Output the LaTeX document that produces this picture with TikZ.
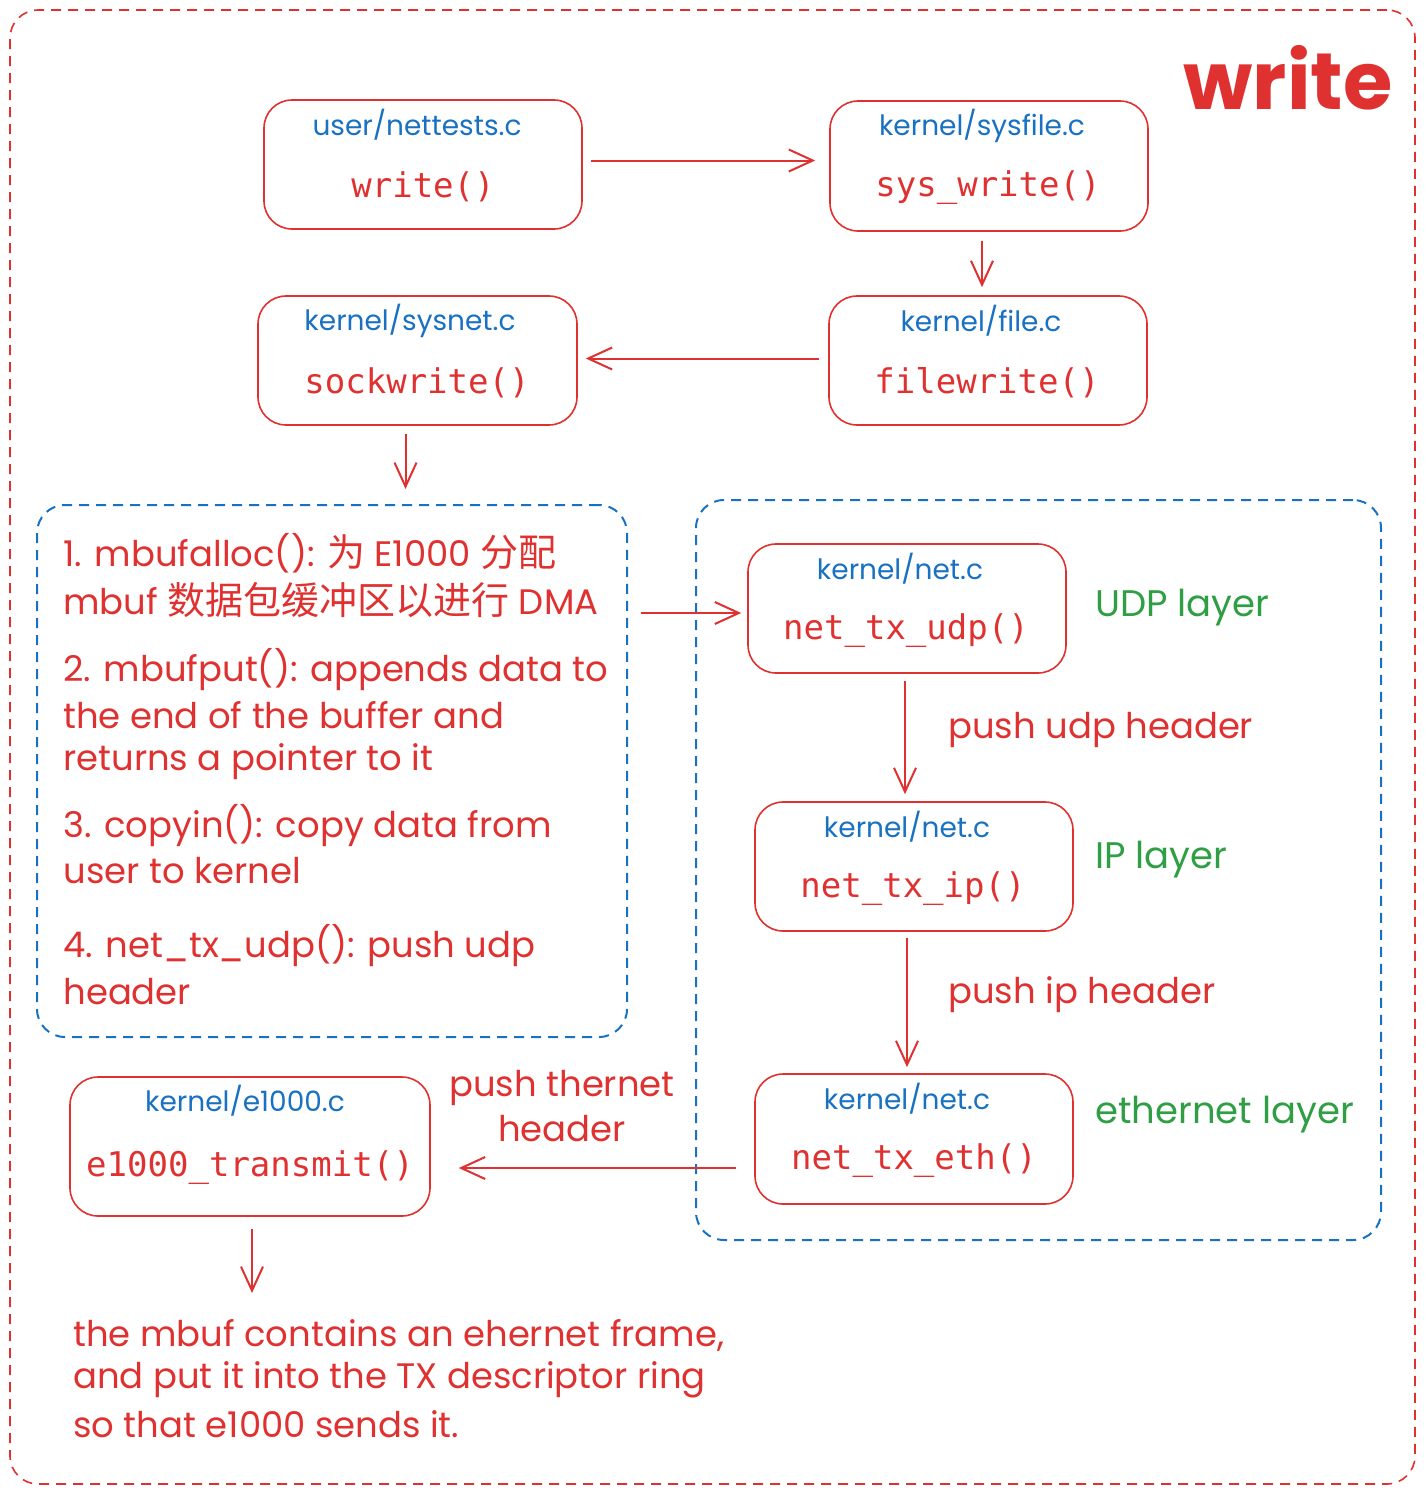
\documentclass[tikz,border=0pt]{standalone}
\usepackage{fontspec}
\setmainfont{Poppins}
\newfontfamily\hand{Poppins}
\newfontfamily\cjk{Noto Sans CJK SC}
\newfontfamily\code{DejaVu Sans Mono}
\usetikzlibrary{arrows.meta,fit,calc}
\definecolor{exred}{HTML}{E03131}
\definecolor{exblue}{HTML}{1971C2}
\definecolor{exgreen}{HTML}{2F9E44}
\begin{document}
\begin{tikzpicture}[x=0.5pt,y=-0.5pt,
  box/.style={draw=exred, line width=0.8pt, rounded corners=14pt, inner sep=0pt},
  grp/.style={draw=exblue, line width=1pt, dash pattern=on 5pt off 3.5pt, rounded corners=14pt, inner sep=0pt},
  outer/.style={draw=exred, line width=0.8pt, dash pattern=on 5pt off 3.5pt, rounded corners=14pt, inner sep=0pt},
  arr/.style={draw=exred, line width=1pt, -{Straight Barb[length=12pt,width=11pt,line width=1pt]}},
  plbl/.style={text=exblue, font=\hand\fontsize{14}{16}\selectfont, inner sep=0pt},
  fn/.style={text=exred, font=\code\fontsize{17}{20}\selectfont, inner sep=0pt},
  hw/.style={text=exred, font=\hand\fontsize{17.7}{21}\selectfont, inner sep=0pt, anchor=west},
  gl/.style={text=exgreen, font=\hand\fontsize{18.5}{22}\selectfont, inner sep=0pt, anchor=west},
  ttl/.style={text=exred, font=\hand\bfseries\fontsize{40}{44}\selectfont, inner sep=0pt}
]
\useasboundingbox (0,0) rectangle (1425,1494);
\node[outer, fit={(10,10) (1415,1484)}] (frame) {};
\node[ttl] (title) at (1288,78) {write};

% boxes
\node[box, fit={(264,100) (582,229)}] (w) {};
\node[plbl] (wl) at (417,125) {user/nettests.c};
\node[fn] (wc) at (423,187) {write()};

\node[box, fit={(830,101) (1148,231)}] (sw) {};
\node[plbl] (swl) at (982,126) {kernel/sysfile.c};
\node[fn] (swc) at (988,188) {sys\_write()};

\node[box, fit={(829,296) (1147,425)}] (fw) {};
\node[plbl] (fwl) at (981,321) {kernel/file.c};
\node[fn] (fwc) at (987,383) {filewrite()};

\node[box, fit={(258,296) (577,425)}] (sock) {};
\node[plbl] (sockl) at (410,321) {kernel/sysnet.c};
\node[fn] (sockc) at (417,383) {sockwrite()};

% left group
\node[grp, fit={(37,505) (627,1037)}] (steps) {};
\node[hw] (s1a) at (63,553) {1. mbufalloc(): {\cjk\fontsize{19}{21}\selectfont 为} E1000 {\cjk\fontsize{19}{21}\selectfont 分配}};
\node[hw] (s1b) at (63,600) {mbuf {\cjk\fontsize{19}{21}\selectfont 数据包缓冲区以进行} DMA};
\node[hw] (s2a) at (63,670) {2. mbufput(): appends data to};
\node[hw] (s2b) at (63,715) {the end of the buffer and};
\node[hw] (s2c) at (63,762) {returns a pointer to it};
\node[hw] (s3a) at (63,826) {3. copyin(): copy data from};
\node[hw] (s3b) at (63,871) {user to kernel};
\node[hw] (s4a) at (63,946) {4. net\_tx\_udp(): push udp};
\node[hw] (s4b) at (63,992) {header};

% right group
\node[grp, fit={(696,500) (1381,1240)}] (net) {};
\node[box, fit={(748,544) (1066,673)}] (udp) {};
\node[plbl] (udpl) at (900,569) {kernel/net.c};
\node[fn] (udpc) at (906,631) {net\_tx\_udp()};
\node[gl] (udpg) at (1095,608) {UDP layer};

\node[box, fit={(755,802) (1073,931)}] (ip) {};
\node[plbl] (ipl) at (907,827) {kernel/net.c};
\node[fn] (ipc) at (913,889) {net\_tx\_ip()};
\node[gl] (ipg) at (1095,860) {IP layer};

\node[box, fit={(755,1074) (1073,1204)}] (eth) {};
\node[plbl] (ethl) at (907,1099) {kernel/net.c};
\node[fn] (ethc) at (914,1161) {net\_tx\_eth()};
\node[gl] (ethg) at (1095,1115) {ethernet layer};

\node[hw] (pu) at (948,730) {push udp header};
\node[hw] (pi) at (948,995) {push ip header};

\node[box, fit={(70,1077) (430,1216)}] (e1k) {};
\node[plbl] (e1kl) at (245,1101) {kernel/e1000.c};
\node[fn] (e1kc) at (250,1168) {e1000\_transmit()};
\node[text=exred, font=\hand\fontsize{17.7}{22.5}\selectfont, inner sep=0pt, align=center] (pe) at (562,1106) {push thernet\\header};

\node[hw] (f1) at (73,1335) {the mbuf contains an ehernet frame,};
\node[hw] (f2) at (73,1380) {and put it into the TX descriptor ring};
\node[hw] (f3) at (73,1424) {so that e1000 sends it.};
\coordinate (fin) at (252,1293);

% connectors
\draw[arr, shorten <=4pt, shorten >=7pt] ([yshift=2pt]w.east) -- ([yshift=2pt]w.east -| sw.west);
\draw[arr, shorten <=4.5pt, shorten >=4pt] ([xshift=-3.5pt]sw.south) -- ([xshift=-3.5pt]sw.south |- fw.north);
\draw[arr, shorten <=4.5pt, shorten >=4pt] ([yshift=1pt]fw.west) -- ([yshift=1pt]fw.west -| sock.east);
\draw[arr, shorten <=4pt, shorten >=7.5pt] ([xshift=-6pt]sock.south) -- ([xshift=-6pt]sock.south |- steps.north);
\draw[arr, shorten <=6.5pt, shorten >=3pt] ([yshift=-2.25pt]steps.east |- udp.west) -- ([yshift=-2.25pt]udp.west);
\draw[arr, shorten <=3.5pt, shorten >=3.5pt] ([xshift=-1pt]udp.south) -- ([xshift=-1pt]udp.south |- ip.north);
\draw[arr, shorten <=3pt, shorten >=3pt] ([xshift=-3.5pt]ip.south) -- ([xshift=-3.5pt]ip.south |- eth.north);
\draw[arr, shorten <=9pt, shorten >=14pt] ([yshift=-14.5pt]eth.west) -- ([yshift=-14.5pt]eth.west -| e1k.east);
\draw[arr, shorten <=6pt] ([xshift=1pt]e1k.south) -- (fin);
\end{tikzpicture}
\end{document}
